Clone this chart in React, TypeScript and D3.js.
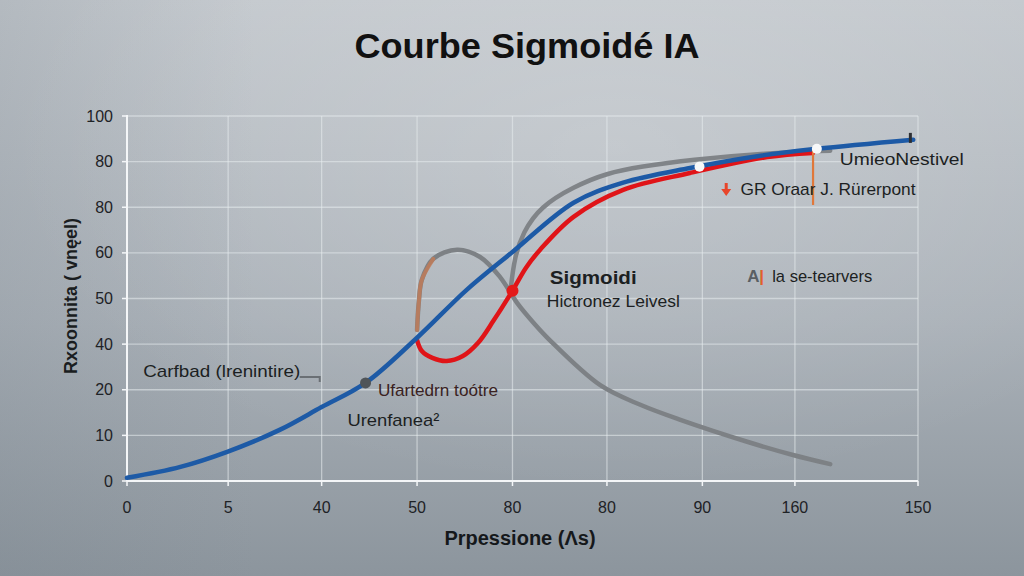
import * as d3 from "d3";

const W = 1024;
const H = 576;

// axis ticks (grid units) and their printed labels
const xTickAt = [0, 1.06, 2.04, 3.04, 4.04, 5.03, 6.03, 7.0, 8.29];
const xTickLabels = ["0", "5", "40", "50", "80", "80", "90", "160", "150"];
const yTickAt = [0, 1, 2, 3, 4, 5, 6, 7, 8];
const yTickLabels = ["0", "10", "20", "40", "50", "60", "80", "80", "100"];

// series in grid units
const blueCurve: [number, number][] = [
  [0, 0.07], [0.56, 0.31], [1.05, 0.64], [1.6, 1.12], [2.04, 1.62], [2.5, 2.15],
  [3.04, 3.14], [3.56, 4.19], [4.04, 5.02], [4.68, 6.1], [5.2, 6.54], [5.9, 6.86],
  [6.64, 7.13], [7.23, 7.28], [8.24, 7.48],
];
const redCurve: [number, number][] = [
  [3.04, 3.09], [3.09, 2.85], [3.2, 2.7], [3.35, 2.63], [3.52, 2.74], [3.68, 3.03],
  [3.84, 3.51], [4.04, 4.17], [4.18, 4.67], [4.33, 5.07], [4.68, 5.79], [5.2, 6.38],
  [5.9, 6.75], [6.71, 7.1], [7.19, 7.19],
];
const grayBump: [number, number][] = [
  [3.04, 3.31], [3.06, 3.97], [3.09, 4.41], [3.21, 4.87], [3.46, 5.07], [3.7, 4.91],
  [3.91, 4.47], [4.09, 3.9], [4.26, 3.47], [4.43, 3.09], [4.96, 2.1], [5.38, 1.67],
  [5.8, 1.34], [6.5, 0.86], [6.98, 0.57], [7.37, 0.37],
];
const grayUpper: [number, number][] = [
  [4.02, 4.19], [4.06, 4.9], [4.15, 5.45], [4.33, 6.01], [4.68, 6.45], [5.03, 6.75],
  [5.38, 6.89], [5.9, 7.04], [6.71, 7.19], [7.37, 7.24],
];

const whiteDots: [number, number][] = [[6.0, 6.89], [7.23, 7.28]];
const redDot: [number, number] = [4.04, 4.17];
const darkDot: [number, number] = [2.5, 2.15];

const x = d3.scaleLinear().domain([0, 8.29]).range([127, 918]);
const y = d3.scaleLinear().domain([0, 8]).range([481, 116]);

const line = d3
  .line<[number, number]>()
  .x((d) => x(d[0]))
  .y((d) => y(d[1]))
  .curve(d3.curveCatmullRom.alpha(0.5));

const softLine = d3
  .line<[number, number]>()
  .x((d) => x(d[0]))
  .y((d) => y(d[1]))
  .curve(d3.curveBasis);

const FONT = "'Liberation Sans', Arial, sans-serif";

export default function App() {
  const ax = x(6.28);
  const ay = y(6.27);
  return (
    <svg
      width={W}
      height={H}
      viewBox={`0 0 ${W} ${H}`}
      style={{ position: "fixed", left: 0, top: 0, display: "block" }}
      fontFamily={FONT}
    >
      <defs>
        <linearGradient id="bg" x1="0" y1="0" x2="0" y2="1">
          <stop offset="0%" stopColor="#c3c8cd" />
          <stop offset="55%" stopColor="#aab1b8" />
          <stop offset="100%" stopColor="#8c959d" />
        </linearGradient>
        <radialGradient id="glow" cx="0.6" cy="0.25" r="0.6">
          <stop offset="0%" stopColor="#ffffff" stopOpacity={0.18} />
          <stop offset="100%" stopColor="#ffffff" stopOpacity={0} />
        </radialGradient>
        <linearGradient id="side" x1="0" y1="0" x2="1" y2="0">
          <stop offset="0%" stopColor="#6f7a84" stopOpacity={0.18} />
          <stop offset="25%" stopColor="#6f7a84" stopOpacity={0} />
        </linearGradient>
      </defs>
      <rect width={W} height={H} fill="url(#bg)" />
      <rect width={W} height={H} fill="url(#glow)" />
      <rect width={W} height={H} fill="url(#side)" />

      <text x={527} y={58} textAnchor="middle" fontSize={35} fontWeight={700} fill="#111" textLength={345} lengthAdjust="spacingAndGlyphs">
        Courbe Sigmoidé IA
      </text>

      {/* grid */}
      <g stroke="#e8ecef" strokeOpacity={0.55} strokeWidth={1.3}>
        {xTickAt.slice(1).map((t, i) => (
          <line key={"gx" + i} x1={x(t)} x2={x(t)} y1={y(8)} y2={y(0)} />
        ))}
        {yTickAt.slice(1).map((t, i) => (
          <line key={"gy" + i} x1={x(0)} x2={x(8.29)} y1={y(t)} y2={y(t)} />
        ))}
      </g>

      {/* axes */}
      <g stroke="#f4f6f8" strokeWidth={2}>
        <line x1={x(0)} x2={x(0)} y1={y(8) - 1} y2={y(0)} />
        <line x1={x(0)} x2={x(8.29)} y1={y(0)} y2={y(0)} />
        {yTickAt.map((t, i) => (
          <line key={"ty" + i} x1={x(0) - 5} x2={x(0)} y1={y(t)} y2={y(t)} strokeWidth={1.5} />
        ))}
        {xTickAt.map((t, i) => (
          <line key={"tx" + i} x1={x(t)} x2={x(t)} y1={y(0)} y2={y(0) + 5} strokeWidth={1.5} />
        ))}
      </g>
      <g fontSize={16} fill="#1e2226">
        {yTickAt.map((t, i) => (
          <text key={"ly" + i} x={x(0) - 14} y={y(t)} dy="0.35em" textAnchor="end">
            {yTickLabels[i]}
          </text>
        ))}
        {xTickAt.map((t, i) => (
          <text key={"lx" + i} x={x(t)} y={y(0) + 26} dy="0.35em" textAnchor="middle">
            {xTickLabels[i]}
          </text>
        ))}
      </g>

      <text x={520} y={545} textAnchor="middle" fontSize={20} fontWeight={600} fill="#15181b">
        Prpessione (Λs)
      </text>
      <text
        transform="translate(77,296) rotate(-90)"
        textAnchor="middle"
        fontSize={18}
        fontWeight={600}
        fill="#1a1d20"
      >
        Rxoonnita ( vnęel)
      </text>

      {/* curves */}
      <g fill="none" strokeLinecap="round">
        <path d={softLine(grayUpper)!} stroke="#808488" strokeWidth={4.5} />
        <path d={line(grayBump)!} stroke="#7d8185" strokeWidth={4.5} />
        <path d={line(grayBump.slice(0, 4))!} stroke="#c47a55" strokeWidth={4} strokeOpacity={0.8} />
        <path d={line(redCurve)!} stroke="#e01418" strokeWidth={4.5} />
        <path d={line(blueCurve)!} stroke="#1d5aa6" strokeWidth={4.5} />
      </g>

      {/* markers */}
      <line x1={x(7.19)} x2={x(7.19)} y1={y(7.26)} y2={y(6.05)} stroke="#e0783a" strokeWidth={2.2} />
      <line x1={x(8.21)} x2={x(8.21)} y1={y(7.63)} y2={y(7.41)} stroke="#2c2f33" strokeWidth={3} />
      {whiteDots.map((d, i) => (
        <circle key={"wd" + i} cx={x(d[0])} cy={y(d[1])} r={5} fill="#f7f8f9" />
      ))}
      <circle cx={x(redDot[0])} cy={y(redDot[1])} r={6} fill="#e41a1a" />
      <circle cx={x(darkDot[0])} cy={y(darkDot[1])} r={5.5} fill="#4f5458" />
      <polyline
        points={`${x(1.81)},${y(2.28)} ${x(2.02)},${y(2.28)} ${x(2.02)},${y(2.17)}`}
        fill="none"
        stroke="#6a6f74"
        strokeWidth={2}
      />
      {/* red down arrow */}
      <path
        d={`M${ax - 1.5},${ay - 12} h3 v6 h3.5 l-5,7 l-5,-7 h3.5 z`}
        fill="#e8452a"
      />

      {/* annotations */}
      <g fontSize={17} fill="#1c1f22">
        <text x={x(0.17)} y={y(2.28)} textLength={157} lengthAdjust="spacingAndGlyphs">Carfbad (lrenintire)</text>
        <text x={x(2.63)} y={y(1.86)} fill="#3a2222" textLength={120} lengthAdjust="spacingAndGlyphs">Ufartedrn toótre</text>
        <text x={x(2.31)} y={y(1.21)} textLength={92} lengthAdjust="spacingAndGlyphs">Urenfanea²</text>
        <text x={x(4.43)} y={y(4.32)} fontWeight={700} fontSize={19} textLength={87} lengthAdjust="spacingAndGlyphs">Sigmoidi</text>
        <text x={x(4.4)} y={y(3.82)} textLength={133} lengthAdjust="spacingAndGlyphs">Hictronez Leivesl</text>
        <text x={x(7.47)} y={y(6.93)} textLength={124} lengthAdjust="spacingAndGlyphs">UmieoNestivel</text>
        <text x={x(6.43)} y={y(6.27)} textLength={175} lengthAdjust="spacingAndGlyphs">GR  Oraar J. Rürerpont</text>
        <text x={x(6.5)} y={y(4.36)} fill="#5a5f64" fontWeight={700}>A</text>
        <text x={x(6.5) + 12} y={y(4.36)} fill="#e0602a" fontWeight={700}>|</text>
        <text x={x(6.5) + 25} y={y(4.36)} textLength={100} lengthAdjust="spacingAndGlyphs">la se-tearvers</text>
      </g>
    </svg>
  );
}
